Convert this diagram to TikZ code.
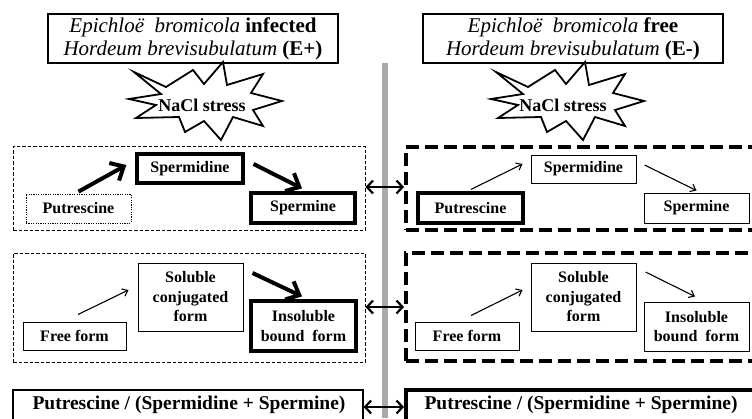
\documentclass[tikz,border=0pt]{standalone}
\usepackage{fontspec}
\setmainfont{Liberation Serif}
\usetikzlibrary{arrows.meta}
\definecolor{barcol}{RGB}{170,170,170}
\newcommand\myTitleFont{\fontsize{21}{23}\selectfont}
\newcommand\myPanelFont{\fontsize{16}{19.5}\selectfont\bfseries}
\newcommand\myBotFont{\fontsize{19.5}{22}\selectfont\bfseries}
\newcommand\myStarFont{\fontsize{18}{20}\selectfont\bfseries}
\begin{document}
\begin{tikzpicture}[x=1pt,y=-1pt,
  titlebox/.style={draw, line width=1.6pt, inner sep=0pt, align=center, font=\myTitleFont,
    minimum height=49pt},
  thinbox/.style={draw, line width=1pt, inner sep=0pt, align=center, font=\myPanelFont},
  thickbox/.style={draw, line width=3.2pt, inner sep=0pt, align=center, font=\myPanelFont},
  dotbox/.style={draw, line width=0.8pt, dash pattern=on 1.2pt off 1.2pt, inner sep=0pt, align=center, font=\myPanelFont},
  thinpanel/.style={draw, line width=1pt, dash pattern=on 3.5pt off 2pt, inner sep=0pt},
  thickpanel/.style={draw, line width=4pt, dash pattern=on 13pt off 6pt, inner sep=0pt},
  thickarr/.style={line width=4pt, -{Straight Barb[length=11pt,width=20pt]}},
  thinarr/.style={line width=1.1pt, -{Straight Barb[length=5pt,width=8pt]}},
  duoarr/.style={line width=2.2pt, {Straight Barb[length=6pt,width=13pt]}-{Straight Barb[length=6pt,width=13pt]}},
  burst/.pic={
    \draw[line width=1.8pt, fill=white, line join=miter, miter limit=20]
      (-69,-32) -- (-37,-17) -- (-10,-34) -- (1,-20) -- (20,-42) -- (24,-19)
      -- (60,-30) -- (48,-11) -- (79,-3) -- (50,6) -- (60,22) -- (30,13)
      -- (18,36) -- (1,17) -- (-18,28) -- (-24,13) -- (-67,14) -- (-47,1)
      -- (-74,-5) -- (-42,-10) -- cycle;
  }]
\clip (0,0) rectangle (752,418);
\fill[white] (0,0) rectangle (752,418);

% central gray bar
\fill[barcol] (382,63) rectangle (388,418);

% titles
\node[titlebox, minimum width=290pt] (titleL) at (193,38.5)
  {{\itshape Epichloë\ \ bromicola} {\bfseries infected}\\{\itshape Hordeum brevisubulatum} {\bfseries (E+)}};
\node[titlebox, minimum width=300pt] (titleR) at (573,38.5)
  {{\itshape Epichloë\ \ bromicola} {\bfseries free}\\{\itshape Hordeum brevisubulatum} {\bfseries (E-)}};

% NaCl stress bursts
\pic at (203,104) {burst};
\node[font=\myStarFont, inner sep=0pt] (naclL) at (202,105) {NaCl stress};
\pic at (565,104) {burst};
\node[font=\myStarFont, inner sep=0pt] (naclR) at (563,105) {NaCl stress};

% panels
\node[thinpanel, minimum width=352pt, minimum height=84pt] (panL1) at (189,188) {};
\node[thickpanel, minimum width=364pt, minimum height=83pt] (panR1) at (588,188.5) {};
\node[thinpanel, minimum width=352pt, minimum height=109pt] (panL2) at (189,307.5) {};
\node[thickpanel, minimum width=364pt, minimum height=108pt] (panR2) at (588,307) {};
\node[draw, line width=1.2pt, minimum width=350pt, minimum height=34pt, inner sep=0pt] (botL) at (188,407) {};
\node[draw, line width=4pt, minimum width=364pt, minimum height=34pt, inner sep=0pt] (botR) at (588,407) {};
\node[font=\myBotFont, inner sep=0pt] (botLt) at (189,405) {Putrescine / (Spermidine + Spermine)};
\node[font=\myBotFont, inner sep=0pt] (botRt) at (581,405) {Putrescine / (Spermidine + Spermine)};

% left panel 1
\node[thickbox, minimum width=106pt, minimum height=29pt] (spdL) at (190,168.5) {Spermidine};
\node[dotbox, minimum width=105pt, minimum height=29pt] (putL) at (78.5,208.5) {Putrescine};
\node[thickbox, minimum width=104pt, minimum height=30pt] (spmL) at (303,208) {Spermine};
% right panel 1
\node[thinbox, minimum width=105pt, minimum height=28pt] (spdR) at (583.5,169) {Spermidine};
\node[thickbox, minimum width=105pt, minimum height=30pt] (putR) at (470.5,208) {Putrescine};
\node[thinbox, minimum width=105pt, minimum height=30pt] (spmR) at (696.5,208) {Spermine};
% left panel 2
\node[thinbox, minimum width=105pt, minimum height=68pt] (solL) at (190.5,297) {Soluble\\conjugated\\form};
\node[thickbox, minimum width=105pt, minimum height=50pt] (insL) at (303.5,326) {Insoluble\\bound\ \ form};
\node[thinbox, minimum width=103pt, minimum height=28pt] (freeL) at (74.5,336) {Free form};
% right panel 2
\node[thinbox, minimum width=105pt, minimum height=68pt] (solR) at (583.5,297) {Soluble\\conjugated\\form};
\node[thinbox, minimum width=105pt, minimum height=49pt] (insR) at (696.5,326.5) {Insoluble\\bound\ \ form};
\node[thinbox, minimum width=104pt, minimum height=28pt] (freeR) at (467,336) {Free form};

% arrows, left panel 1
\draw[thickarr] ([shift={(0,-2)}]putL.north) -- ([shift={(-9,-3.5)}]spdL.west);
\draw[thickarr] ([shift={(9,-4.5)}]spdL.east) -- ([shift={(-1,-3)}]spmL.north);
% arrows, right panel 1
\draw[thinarr] ([shift={(0.5,-2)}]putR.north) -- ([shift={(-8,-5)}]spdR.west);
\draw[thinarr] ([shift={(8,-4)}]spdR.east) -- ([shift={(0,-2)}]spmR.north);
% arrows, left panel 2
\draw[thinarr] ([shift={(3.5,-7)}]freeL.north) -- ([shift={(-9,-7)}]solL.west);
\draw[thickarr] ([shift={(9,-24)}]solL.east) -- ([shift={(-1.5,-3)}]insL.north);
% arrows, right panel 2
\draw[thinarr] ([shift={(4,-6)}]freeR.north) -- ([shift={(-8,-7)}]solR.west);
\draw[thinarr] ([shift={(9,-25)}]solR.east) -- ([shift={(-1.5,-5)}]insR.north);

% double arrows between sides
\draw[duoarr] ([yshift=1pt]panL1.east) -- ([yshift=1pt]panL1.east -| panR1.west);
\draw[duoarr] ([yshift=0.5pt]panL2.east) -- ([yshift=0.5pt]panL2.east -| panR2.west);
\draw[duoarr] (botL.east) -- (botR.west);
\end{tikzpicture}
\end{document}
